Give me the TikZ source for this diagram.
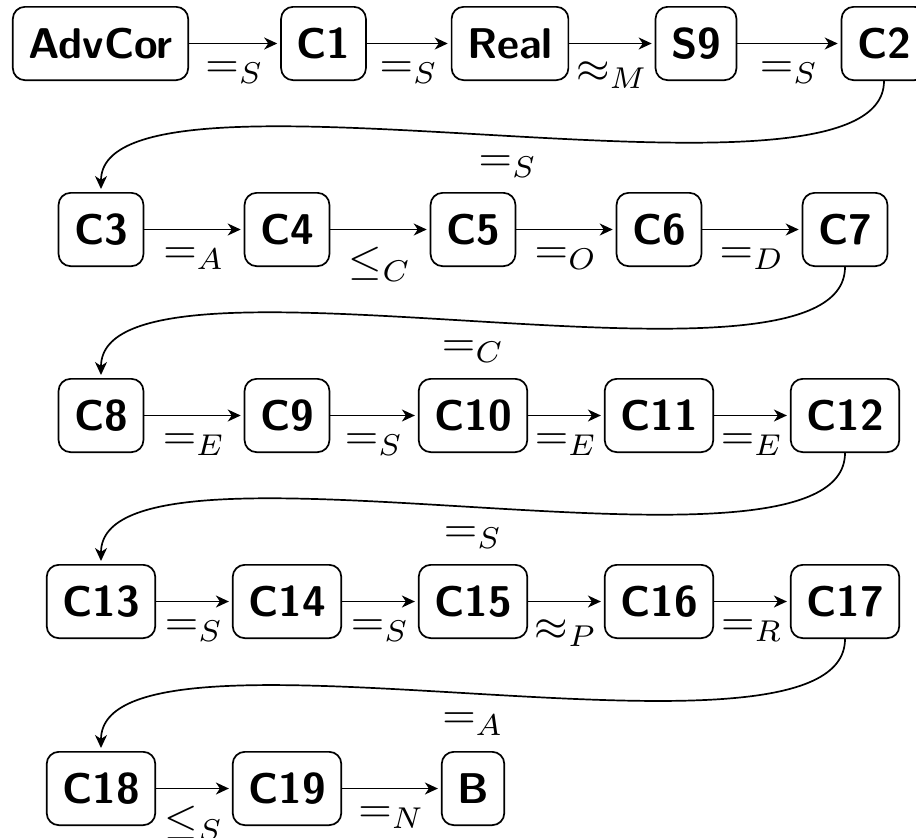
\documentclass[tikz,border=0pt]{standalone}
\usetikzlibrary{arrows.meta}
\begin{document}
\begin{tikzpicture}[
  x=1pt, y=-1pt,
  stage/.style={draw, line width=1.7pt, rounded corners=12pt,
    font=\sffamily\bfseries\fontsize{43}{50}\selectfont,
    minimum height=73.3pt, inner xsep=15.5pt, inner ysep=0pt},
  arr/.style={line width=1.7pt, shorten >=3pt,
    -{Stealth[length=13pt, width=12pt, inset=4pt]}},
  lbl/.style={below, scale=4.3},
]
\useasboundingbox (0,0) rectangle (916,838);

% first row
\node[stage] (advcor) at (100.5,43.5) {AdvCor};
\node[stage] (c1)  at (323.5,43.5) {C1};
\node[stage] (real) at (510,43.5) {Real};
\node[stage] (s9)  at (696,43.5) {S9};
\node[stage] (c2)  at (884,43.5) {C2};

% second row
\node[stage] (c3) at (101,229.5) {C3};
\node[stage] (c4) at (287,229.5) {C4};
\node[stage] (c5) at (473,229.5) {C5};
\node[stage] (c6) at (659,229.5) {C6};
\node[stage] (c7) at (845,229.5) {C7};

% third row
\node[stage] (c8)  at (101,415.5) {C8};
\node[stage] (c9)  at (287,415.5) {C9};
\node[stage] (c10) at (473,415.5) {C10};
\node[stage] (c11) at (659,415.5) {C11};
\node[stage] (c12) at (845,415.5) {C12};

% fourth row
\node[stage] (c13) at (101,601.5) {C13};
\node[stage] (c14) at (287,601.5) {C14};
\node[stage] (c15) at (473,601.5) {C15};
\node[stage] (c16) at (659,601.5) {C16};
\node[stage] (c17) at (845,601.5) {C17};

% fifth row
\node[stage] (c18) at (101,788.5) {C18};
\node[stage] (c19) at (287,788.5) {C19};
\node[stage] (b)   at (473,788.5) {B};

% steps within rows
\draw[arr] (advcor) -- node[lbl] {$=_S$} (c1);
\draw[arr] (c1) -- node[lbl] {$=_S$} (real);
\draw[arr] (real) -- node[lbl] {$\approx_M$} (s9);
\draw[arr] (s9) -- node[lbl] {$=_S$} (c2);

\draw[arr] (c3) -- node[lbl] {$=_A$} (c4);
\draw[arr] (c4) -- node[lbl] {$\leq_C$} (c5);
\draw[arr] (c5) -- node[lbl] {$=_O$} (c6);
\draw[arr] (c6) -- node[lbl] {$=_D$} (c7);

\draw[arr] (c8) -- node[lbl] {$=_E$} (c9);
\draw[arr] (c9) -- node[lbl] {$=_S$} (c10);
\draw[arr] (c10) -- node[lbl] {$=_E$} (c11);
\draw[arr] (c11) -- node[lbl] {$=_E$} (c12);

\draw[arr] (c13) -- node[lbl] {$=_S$} (c14);
\draw[arr] (c14) -- node[lbl] {$=_S$} (c15);
\draw[arr] (c15) -- node[lbl] {$\approx_P$} (c16);
\draw[arr] (c16) -- node[lbl] {$=_R$} (c17);

\draw[arr] (c18) -- node[lbl] {$\leq_S$} (c19);
\draw[arr] (c19) -- node[lbl] {$=_N$} (b);

% wrap-around links between rows
\draw[arr] (c2.south) .. controls +(0,150) and +(0,-150) ..
  node[lbl, pos=0.487] {$=_S$} (c3.north);
\draw[arr] (c7.south) .. controls +(0,150) and +(0,-150) ..
  node[lbl] {$=_C$} (c8.north);
\draw[arr] (c12.south) .. controls +(0,150) and +(0,-150) ..
  node[lbl] {$=_S$} (c13.north);
\draw[arr] (c17.south) .. controls +(0,150) and +(0,-150) ..
  node[lbl] {$=_A$} (c18.north);
\end{tikzpicture}
\end{document}
